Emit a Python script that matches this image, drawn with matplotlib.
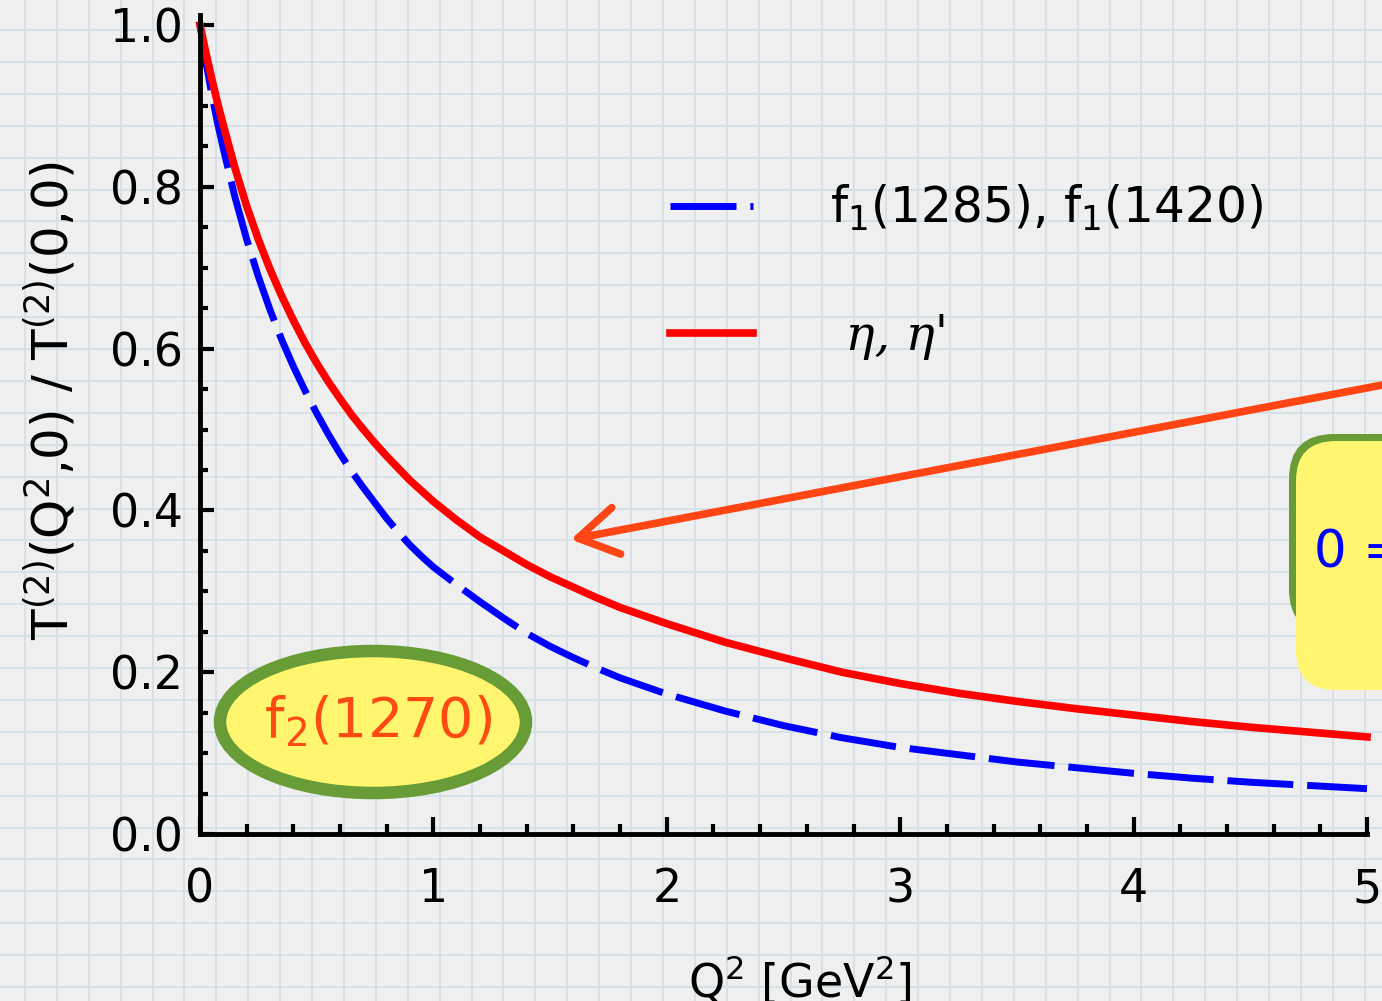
import numpy as np
import matplotlib.pyplot as plt
from matplotlib.patches import Ellipse, FancyBboxPatch, Rectangle
from matplotlib.ticker import MultipleLocator

# Q^2 grid [GeV^2] and the two normalised form factors
q2 = [0.0, 0.025, 0.05, 0.075, 0.1, 0.15, 0.2, 0.25, 0.3, 0.35, 0.4, 0.45,
      0.5, 0.55, 0.6, 0.65, 0.7, 0.75, 0.8, 0.85, 0.9, 0.95, 1.0, 1.1, 1.2,
      1.3, 1.4, 1.5, 1.6, 1.7, 1.8, 1.9, 2.0, 2.25, 2.5, 2.75, 3.0, 3.25,
      3.5, 3.75, 4.0, 4.25, 4.5, 4.75, 5.0]
t_f1 = [1.0, 0.955, 0.915, 0.879, 0.847, 0.787, 0.735, 0.689, 0.648, 0.611,
        0.578, 0.548, 0.52, 0.494, 0.47, 0.448, 0.428, 0.409, 0.39, 0.373,
        0.357, 0.343, 0.33, 0.308, 0.287, 0.267, 0.248, 0.232, 0.218, 0.205,
        0.193, 0.183, 0.173, 0.152, 0.134, 0.119, 0.107, 0.098, 0.089, 0.082,
        0.075, 0.069, 0.064, 0.060, 0.056]
t_eta = [1.0, 0.966, 0.934, 0.904, 0.876, 0.823, 0.776, 0.735, 0.698, 0.665,
         0.635, 0.607, 0.582, 0.559, 0.538, 0.518, 0.50, 0.483, 0.467, 0.452,
         0.437, 0.424, 0.411, 0.388, 0.367, 0.35, 0.333, 0.318, 0.305, 0.292,
         0.28, 0.27, 0.26, 0.237, 0.218, 0.20, 0.186, 0.174, 0.164, 0.155,
         0.147, 0.139, 0.132, 0.126, 0.12]

label_f1 = r"f$_1$(1285), f$_1$(1420)"
label_eta = " \u03b7, \u03b7'"

plt.rcParams['font.family'] = ['DejaVu Sans']
plt.rcParams['mathtext.fontset'] = 'dejavusans'

W, H = 1382, 1001
fig = plt.figure(figsize=(W / 100, H / 100), dpi=100, facecolor='#efefef')

# grid-paper background
bg = fig.add_axes([0, 0, 1, 1], zorder=0)
bg.set_xlim(0, W)
bg.set_ylim(H, 0)
bg.axis('off')
bg.add_patch(Rectangle((0, 0), W, H, color='#efefef'))
for gx in np.arange(25, W, 31.9):
    bg.axvline(gx, color='#d6e1e7', lw=1.4)
for gy in np.arange(30, H, 31.9):
    bg.axhline(gy, color='#d6e1e7', lw=1.4)

ax = fig.add_axes([200 / W, 1 - 834 / H, 1167 / W, 809 / H], zorder=1)
ax.patch.set_visible(False)

ax.plot(q2, t_f1, color='#0000ff', lw=5, dashes=(9.5, 2), label=label_f1,
        clip_on=False, solid_capstyle='butt')
ax.plot(q2, t_eta, color='#ff0000', lw=5.5, label=label_eta, clip_on=False)

ax.set_xlim(0, 5)
ax.set_ylim(0, 1)
ax.xaxis.set_major_locator(MultipleLocator(1))
ax.xaxis.set_minor_locator(MultipleLocator(0.2))
ax.yaxis.set_major_locator(MultipleLocator(0.2))
ax.yaxis.set_minor_locator(MultipleLocator(0.05))
for side in ['top', 'right']:
    ax.spines[side].set_visible(False)
for side in ['left', 'bottom']:
    ax.spines[side].set_linewidth(3.5)
ax.spines['left'].set_bounds(0, 1.012)
ax.tick_params(axis='x', which='major', direction='in', length=12, width=3,
               pad=24, labelsize=33)
ax.tick_params(axis='x', which='minor', direction='in', length=7, width=3)
ax.tick_params(axis='y', which='major', direction='in', length=10, width=3,
               pad=12, labelsize=33)
ax.tick_params(axis='y', which='minor', direction='in', length=6, width=3)

ax.set_ylabel(r"T$^{(2)}$(Q$^2$,0) / T$^{(2)}$(0,0)", fontsize=36)
ax.yaxis.set_label_coords(-0.104, 0.536)
ax.set_xlabel(r"Q$^2$ [GeV$^2$]", fontsize=33)
ax.xaxis.set_label_coords(0.514, -0.148)

leg = ax.legend(loc='upper left', bbox_to_anchor=(0.4027, 0.805),
                frameon=False, fontsize=35, handlelength=1.7,
                handletextpad=1.6, labelspacing=1.65, borderpad=0,
                borderaxespad=0)
leg.get_texts()[1].set_fontfamily('DejaVu Serif')
leg.get_texts()[1].set_fontstyle('italic')

# slide decorations on top
ov = fig.add_axes([0, 0, 1, 1], zorder=2)
ov.set_xlim(0, W)
ov.set_ylim(H, 0)
ov.axis('off')

ov.add_patch(Ellipse((373, 722), 306, 142, facecolor='#fff56e',
                     edgecolor='#679c36', lw=9))
ov.text(378, 722, r"f$_2$(1270)", color='#ff4a14', fontsize=40,
        ha='center', va='center')

ov.add_patch(FancyBboxPatch((1289, 434), 200, 200,
                            boxstyle='round,pad=0,rounding_size=45',
                            facecolor='#679c36', edgecolor='none'))
ov.add_patch(FancyBboxPatch((1296, 441), 200, 249,
                            boxstyle='round,pad=0,rounding_size=40',
                            facecolor='#fff56e', edgecolor='none'))
ov.text(1314, 553, "0 =", color='#0000ff', fontsize=37, va='center',
        ha='left')

ov.annotate('', xy=(568, 540), xytext=(1400, 381.6),
            arrowprops=dict(arrowstyle='->,head_length=1.4,head_width=0.85',
                            mutation_scale=20, color='#ff4514', lw=5.5),
            annotation_clip=False)

fig.savefig('out.png', dpi=100, facecolor=fig.get_facecolor())
